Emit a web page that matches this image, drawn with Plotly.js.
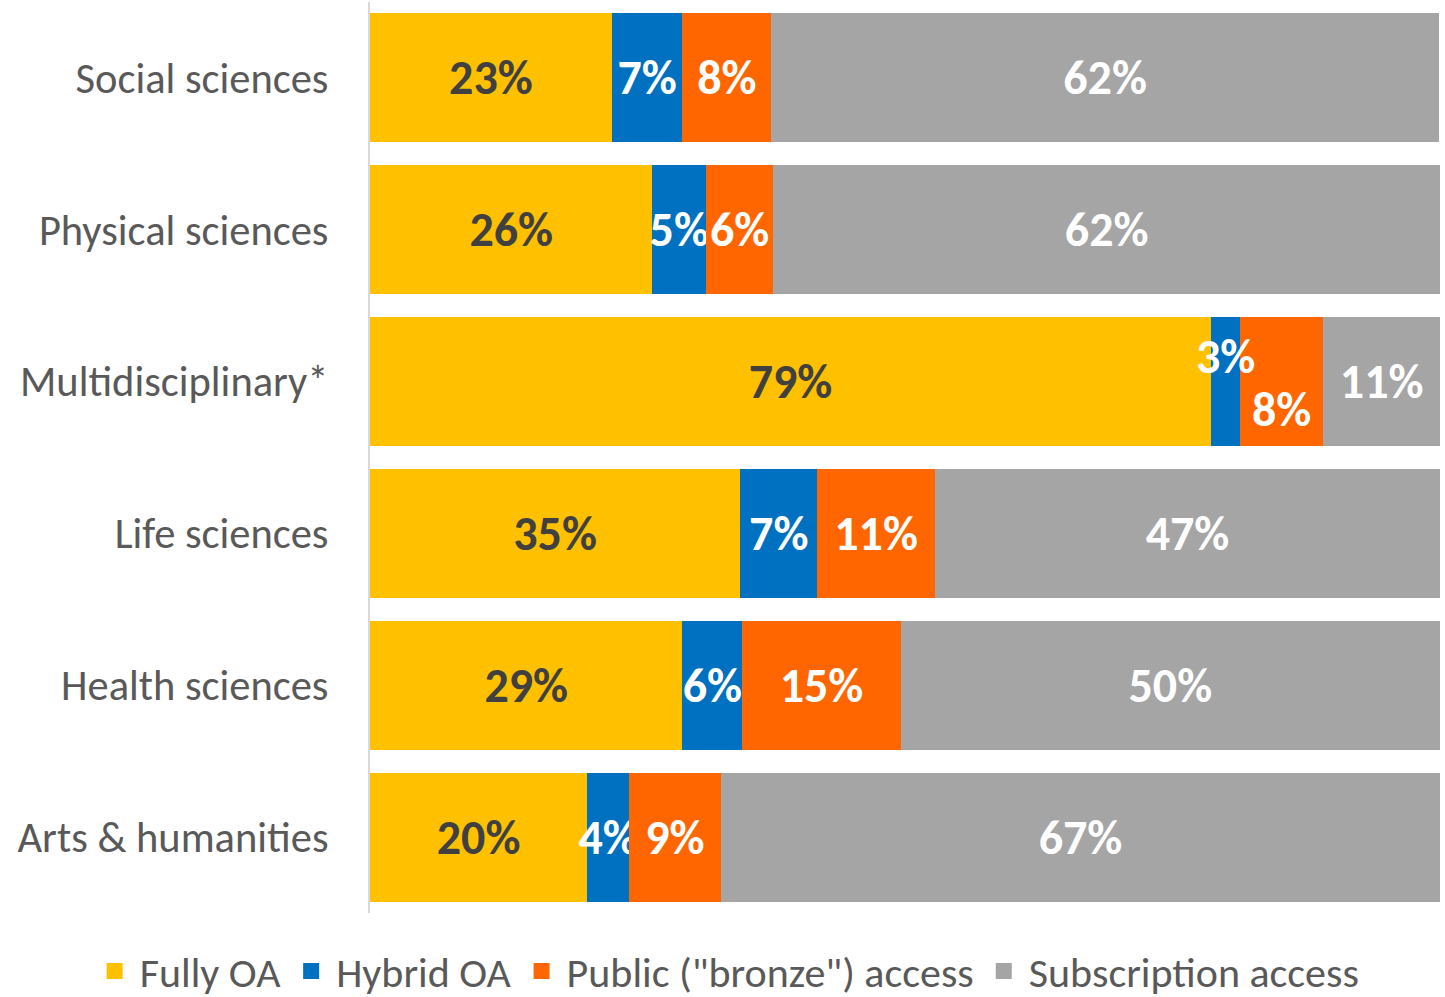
<!DOCTYPE html>
<html>
<head>
<meta charset="utf-8">
<script src="https://cdn.plot.ly/plotly-3.0.1.min.js"></script>
<style>html,body{margin:0;padding:0;background:#fff;}#chart{width:1445px;height:997px;}</style>
</head>
<body>
<div id="chart"></div>
<script>
const categories = ["Social sciences", "Physical sciences", "Multidisciplinary*", "Life sciences", "Health sciences", "Arts & humanities"];
const seriesNames = ["Fully OA", "Hybrid OA", "Public (\"bronze\") access", "Subscription access"];
const fullyOA      = [22.6, 26.4, 78.6, 34.6, 29.2, 20.3];
const hybridOA     = [6.6, 5.0, 2.7, 7.2, 5.6, 3.9];
const bronze       = [8.3, 6.3, 7.8, 11.0, 14.8, 8.6];
const subscription = [62.4, 62.3, 10.9, 47.2, 50.4, 67.2];
const colors = ["#FFC000", "#0070C0", "#FF6600", "#A5A5A5"];
const textColors = ["#404040", "#FFFFFF", "#FFFFFF", "#FFFFFF"];
// labels moved off-centre (as in the original) for this category
const offsetCategory = "Multidisciplinary*";

const FONT = "Calibri, Carlito, Lato, sans-serif";
const series = [fullyOA, hybridOA, bronze, subscription];
const offIdx = categories.indexOf(offsetCategory);

const traces = [];
const annotations = [];
series.forEach((vals, s) => {
  const txt = vals.map((v, i) => (i === offIdx && (s === 1 || s === 2)) ? "" : Math.round(v) + "%");
  traces.push({
    type: "bar", orientation: "h", name: seriesNames[s],
    x: vals, y: categories,
    marker: {color: colors[s], line: {width: 0}},
    text: txt, textposition: "inside", textangle: 0, constraintext: "none",
    insidetextanchor: "middle",
    textfont: {family: FONT, size: 48, color: textColors[s], weight: 700},
    showlegend: false, hoverinfo: "skip"
  });
});
// off-centre labels for the narrow segments of the multidisciplinary bar
[1, 2].forEach((s, k) => {
  let start = 0;
  for (let j = 0; j < s; j++) start += series[j][offIdx];
  const v = series[s][offIdx];
  annotations.push({
    x: start + v / 2, y: offsetCategory, xref: "x", yref: "y",
    text: Math.round(v) + "%", showarrow: false,
    yshift: k === 0 ? 25 : -28,
    font: {family: FONT, size: 48, color: "#FFFFFF", weight: 700}
  });
});
// legend entries with larger square swatches
seriesNames.forEach((n, s) => {
  traces.push({
    type: "scatter", mode: "markers", name: n, x: [null], y: [null],
    marker: {symbol: "square", size: 16, color: colors[s]},
    showlegend: true, hoverinfo: "skip"
  });
});

const layout = {
  width: 1445, height: 997,
  margin: {l: 370, r: 5, t: 2, b: 84, autoexpand: false},
  paper_bgcolor: "#FFFFFF", plot_bgcolor: "#FFFFFF",
  barmode: "stack", bargap: 0.15,
  font: {family: FONT, color: "#595959"},
  xaxis: {range: [0, 100], showticklabels: false, showgrid: false, zeroline: false, showline: false, fixedrange: true},
  yaxis: {
    autorange: "reversed", showgrid: false, zeroline: false,
    showline: true, linecolor: "#D9D9D9", linewidth: 2,
    ticks: "", ticklabelstandoff: 31,
    tickfont: {family: FONT, size: 42.5, color: "#595959"}
  },
  legend: {
    orientation: "h", traceorder: "normal",
    xref: "paper", yref: "paper",
    x: -0.262, xanchor: "left", y: -0.064, yanchor: "middle",
    font: {family: FONT, size: 42, color: "#595959"},
    itemwidth: 40, itemclick: false, itemdoubleclick: false
  },
  annotations: annotations,
  showlegend: true
};

Plotly.newPlot("chart", traces, layout, {displayModeBar: false, staticPlot: true});
</script>
</body>
</html>
